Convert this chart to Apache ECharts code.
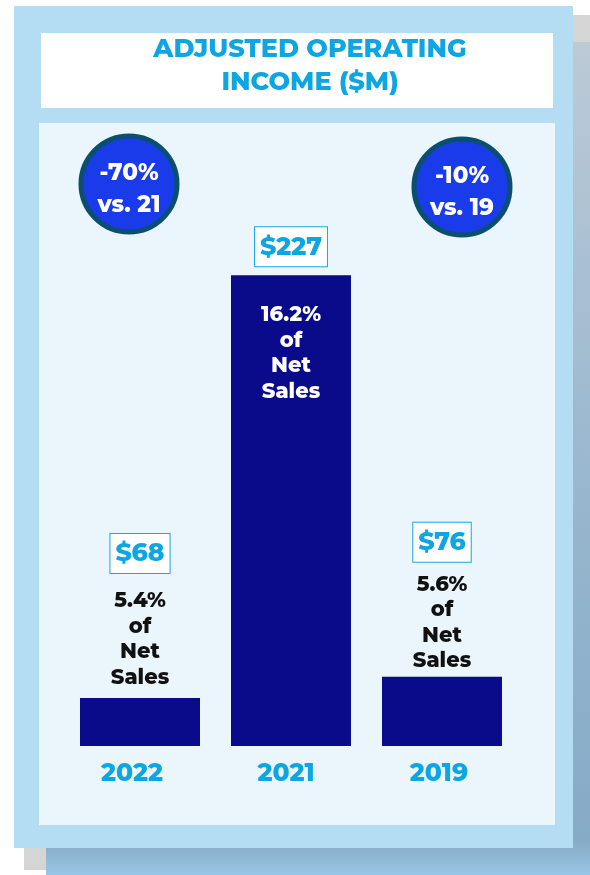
<!DOCTYPE html>
<html>
<head>
<meta charset="utf-8">
<script src="https://cdn.jsdelivr.net/npm/echarts@6/dist/echarts.min.js"></script>
<style>
  html, body { margin: 0; padding: 0; background: #fff; }
  #chart { width: 590px; height: 875px; }
</style>
</head>
<body>
<div id="chart"></div>
<script>
// data
const years = ['2022', '2021', '2019']
const incomeValues = [68, 227, 76]
const valueLabels = ['$68', '$227', '$76']
const shareLabels = ['5.4%', '16.2%', '5.6%']
const changeBadges = [
  ['-70%', 'vs. 21'],
  ['-10%', 'vs. 19']
]

const FONT = 'Montserrat, "Open Sans", Lato, sans-serif'
const BLUE_TEXT = '#0ea5e3'

const chart = echarts.init(document.getElementById('chart'))

// share-of-sales text: above the small bars, inside the tall one
const shareDistance = [8, 27, 3]
const boxDistance = [125, 9, 115]

const shareData = incomeValues.map((v, i) => {
  const inside = i === 1
  return {
    value: v,
    label: {
      show: true,
      position: inside ? 'insideTop' : 'top',
      distance: shareDistance[i],
      formatter: shareLabels[i] + '\nof\nNet\nSales',
      color: inside ? '#ffffff' : '#111111',
      fontFamily: FONT,
      fontWeight: 800,
      fontSize: 21,
      lineHeight: 25.5
    }
  }
})

const boxData = incomeValues.map((v, i) => {
  return {
    value: v,
    label: {
      show: true,
      position: 'top',
      distance: boxDistance[i],
      formatter: valueLabels[i]
    }
  }
})

// year labels sit a little left of the bar centres in the original
const yearData = years.map((y, i) => {
  const shift = [16, 10, 6][i]
  return { value: y, textStyle: { padding: [0, shift, 0, 0] } }
})

const badgePos = [[129, 184], [462, 187]]
const badgeText = []
changeBadges.forEach((lines, i) => {
  const [cx, cy] = badgePos[i]
  badgeText.push({
    type: 'circle',
    shape: { cx: cx, cy: cy, r: 48 },
    style: { fill: '#1a3be9', stroke: '#0b4f6f', lineWidth: 5 },
    z: 50
  })
  badgeText.push({
    type: 'text',
    x: cx,
    y: cy - 11,
    style: {
      text: lines[0], fill: '#fff', font: '800 23px ' + FONT,
      align: 'center', verticalAlign: 'middle'
    },
    z: 51
  })
  badgeText.push({
    type: 'text',
    x: cx,
    y: cy + 21,
    style: {
      text: lines[1], fill: '#fff', font: '800 23px ' + FONT,
      align: 'center', verticalAlign: 'middle'
    },
    z: 51
  })
})

const option = {
  animation: false,
  grid: { left: 64.5, right: 72.5, top: 214, bottom: 129 },
  xAxis: {
    type: 'category',
    data: yearData,
    axisLine: { show: false },
    axisTick: { show: false },
    axisLabel: {
      margin: 15,
      color: BLUE_TEXT,
      fontFamily: FONT,
      fontWeight: 800,
      fontSize: 25
    }
  },
  yAxis: {
    type: 'value',
    min: 50,
    max: 250,
    show: false
  },
  graphic: [
    // photo strip peeking out behind the card
    {
      type: 'rect', z: -20,
      shape: { x: 46, y: 42, width: 544, height: 833 },
      style: {
        fill: new echarts.graphic.LinearGradient(0, 0, 0, 1, [
          { offset: 0, color: '#bccad6' },
          { offset: 0.5, color: '#9ab8cf' },
          { offset: 0.96, color: '#86abc7' },
          { offset: 1, color: '#98c6e6' }
        ])
      }
    },
    { type: 'rect', z: -19, shape: { x: 573, y: 15, width: 17, height: 27 }, style: { fill: '#d5d5d5' } },
    { type: 'rect', z: -19, shape: { x: 24, y: 848, width: 22, height: 22 }, style: { fill: '#d5d5d5' } },
    // card
    { type: 'rect', z: -10, shape: { x: 14, y: 6, width: 559, height: 842 }, style: { fill: '#b4dcf3' } },
    { type: 'rect', z: -9, shape: { x: 41, y: 33, width: 512, height: 75 }, style: { fill: '#ffffff' } },
    { type: 'rect', z: -9, shape: { x: 39, y: 123, width: 516, height: 702 }, style: { fill: '#eaf5fc' } },
    {
      type: 'text', z: 5, x: 310, y: 49,
      style: {
        text: 'ADJUSTED OPERATING', fill: BLUE_TEXT, font: '800 25.5px ' + FONT,
        align: 'center', verticalAlign: 'middle'
      }
    },
    {
      type: 'text', z: 5, x: 310, y: 82,
      style: {
        text: 'INCOME ($M)', fill: BLUE_TEXT, font: '800 25.5px ' + FONT,
        align: 'center', verticalAlign: 'middle'
      }
    }
  ].concat(badgeText),
  series: [
    {
      type: 'bar',
      barWidth: 120,
      itemStyle: { color: '#090b8a' },
      data: shareData
    },
    {
      type: 'bar',
      barWidth: 120,
      barGap: '-100%',
      itemStyle: { color: 'rgba(0,0,0,0)' },
      label: {
        color: BLUE_TEXT,
        fontFamily: FONT,
        fontWeight: 800,
        fontSize: 25,
        lineHeight: 28,
        backgroundColor: '#ffffff',
        borderColor: '#1aa6e3',
        borderWidth: 1,
        padding: [6, 5, 5, 5]
      },
      data: boxData
    }
  ]
}

chart.setOption(option)
</script>
</body>
</html>
